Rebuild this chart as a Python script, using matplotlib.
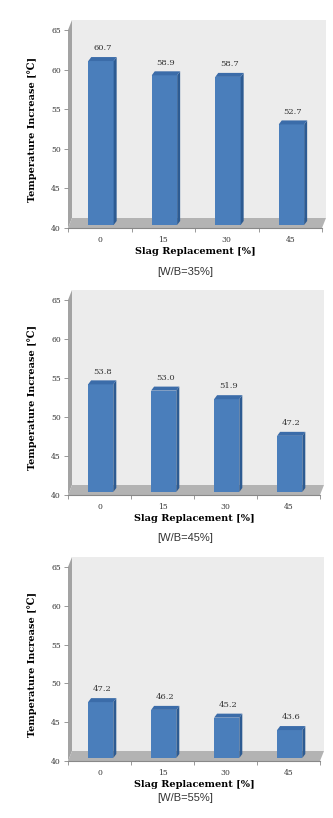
import numpy as np
import matplotlib
matplotlib.use("Agg")
from matplotlib import pyplot as plt
from matplotlib.patches import Polygon

# data
categories = ["0", "15", "30", "45"]
wb35 = [60.7, 58.9, 58.7, 52.7]
wb45 = [53.8, 53.0, 51.9, 47.2]
wb55 = [47.2, 46.2, 45.2, 43.6]
captions = ["[W/B=35%]", "[W/B=45%]", "[W/B=55%]"]
yticks = [40, 45, 50, 55, 60, 65]

W, H = 333, 818
fig = plt.figure(figsize=(W / 100, H / 100), dpi=100)

# panel layout in pixels: (left, right, y of 40, y of 65, caption y)
panels = [(68, 322, 228, 30, 272), (68, 320, 495, 300, 538), (68, 320, 761, 567, 798)]

WALL = "#ececec"
SIDE = "#a3a3a3"
FLOOR = "#b3b3b3"
FRONT = "#4a7ebb"
BSIDE = "#2d5b92"
BTOP = "#3b6ca9"
SERIF = ["DejaVu Serif"]


def draw_panel(vals, px, caption):
    left, right, y0, y1, ycap = px
    ax = fig.add_axes([left / W, 1 - y0 / H, (right - left) / W, (y0 - y1) / H])
    ax.set_xlim(0, 4)
    ax.set_ylim(40, 65)
    ax.patch.set_visible(False)
    for s in ["top", "right", "left"]:
        ax.spines[s].set_visible(False)
    ax.spines["bottom"].set_color("#888888")
    ax.spines["bottom"].set_linewidth(0.8)

    # depth offsets in data units (from pixels)
    xpp = 4 / (right - left)
    ypp = 25 / (y0 - y1)
    dx, dy = 4 * xpp, 10 * ypp

    # back wall, side wall, floor
    ax.add_patch(Polygon([(dx, 40 + dy), (4 + dx, 40 + dy), (4 + dx, 65 + dy), (dx, 65 + dy)],
                         closed=True, fc=WALL, ec="none", clip_on=False, zorder=0))
    ax.add_patch(Polygon([(0, 40), (dx, 40 + dy), (dx, 65 + dy), (0, 65)],
                         closed=True, fc=SIDE, ec="none", clip_on=False, zorder=1))
    ax.add_patch(Polygon([(0, 40), (4, 40), (4 + dx, 40 + dy), (dx, 40 + dy)],
                         closed=True, fc=FLOOR, ec="none", clip_on=False, zorder=1))

    # 3d bars
    x = np.arange(len(vals)) + 0.5 + dx * 0.3
    bw = 0.4
    b0 = 40 + dy * 0.3
    bdx, bdy = 3 * xpp, 4 * ypp
    heights = [v - 40 for v in vals]
    ax.bar(x, heights, bw, bottom=b0, color=FRONT, zorder=3)
    for xi, v in zip(x, vals):
        top = v + dy * 0.3
        xr = xi + bw / 2
        xl = xi - bw / 2
        ax.add_patch(Polygon([(xr, b0), (xr + bdx, b0 + bdy), (xr + bdx, top + bdy), (xr, top)],
                             closed=True, fc=BSIDE, ec="none", zorder=3, clip_on=False))
        ax.add_patch(Polygon([(xl, top), (xr, top), (xr + bdx, top + bdy), (xl + bdx, top + bdy)],
                             closed=True, fc=BTOP, ec="none", zorder=3, clip_on=False))
        ax.text(xi + bdx / 2, top + bdy + 0.6, f"{v:.1f}", ha="center", va="bottom",
                fontsize=6, family=SERIF, color="#333333", zorder=4, clip_on=False)

    ax.set_yticks(yticks)
    ax.set_yticklabels([str(t) for t in yticks], fontsize=5.5, family=SERIF, color="#333333")
    ax.tick_params(axis="y", length=3, width=0.6, color="#888888", pad=2, direction="out")
    ax.set_xticks(np.arange(len(vals)) + 0.5)
    ax.set_xticklabels(categories, fontsize=5.5, family=SERIF, color="#333333")
    ax.set_xticks([0, 1, 2, 3, 4], minor=True)
    ax.tick_params(axis="x", which="major", length=0, pad=6)
    ax.tick_params(axis="x", which="minor", length=3, width=0.6, color="#888888")
    ax.set_xlabel("Slag Replacement [%]", fontsize=7, family=SERIF, fontweight="bold", labelpad=2)
    ax.set_ylabel("Temperature Increase [\u2103]", fontsize=7, family=SERIF, fontweight="bold",
                  labelpad=10)
    # caption under the chart
    fig.text(185 / W, 1 - ycap / H, caption, ha="center", va="center",
             fontsize=8, family=["Liberation Sans"], color="#333333")


draw_panel(wb35, panels[0], captions[0])
draw_panel(wb45, panels[1], captions[1])
draw_panel(wb55, panels[2], captions[2])

fig.savefig("out.png", dpi=100, facecolor="white")
